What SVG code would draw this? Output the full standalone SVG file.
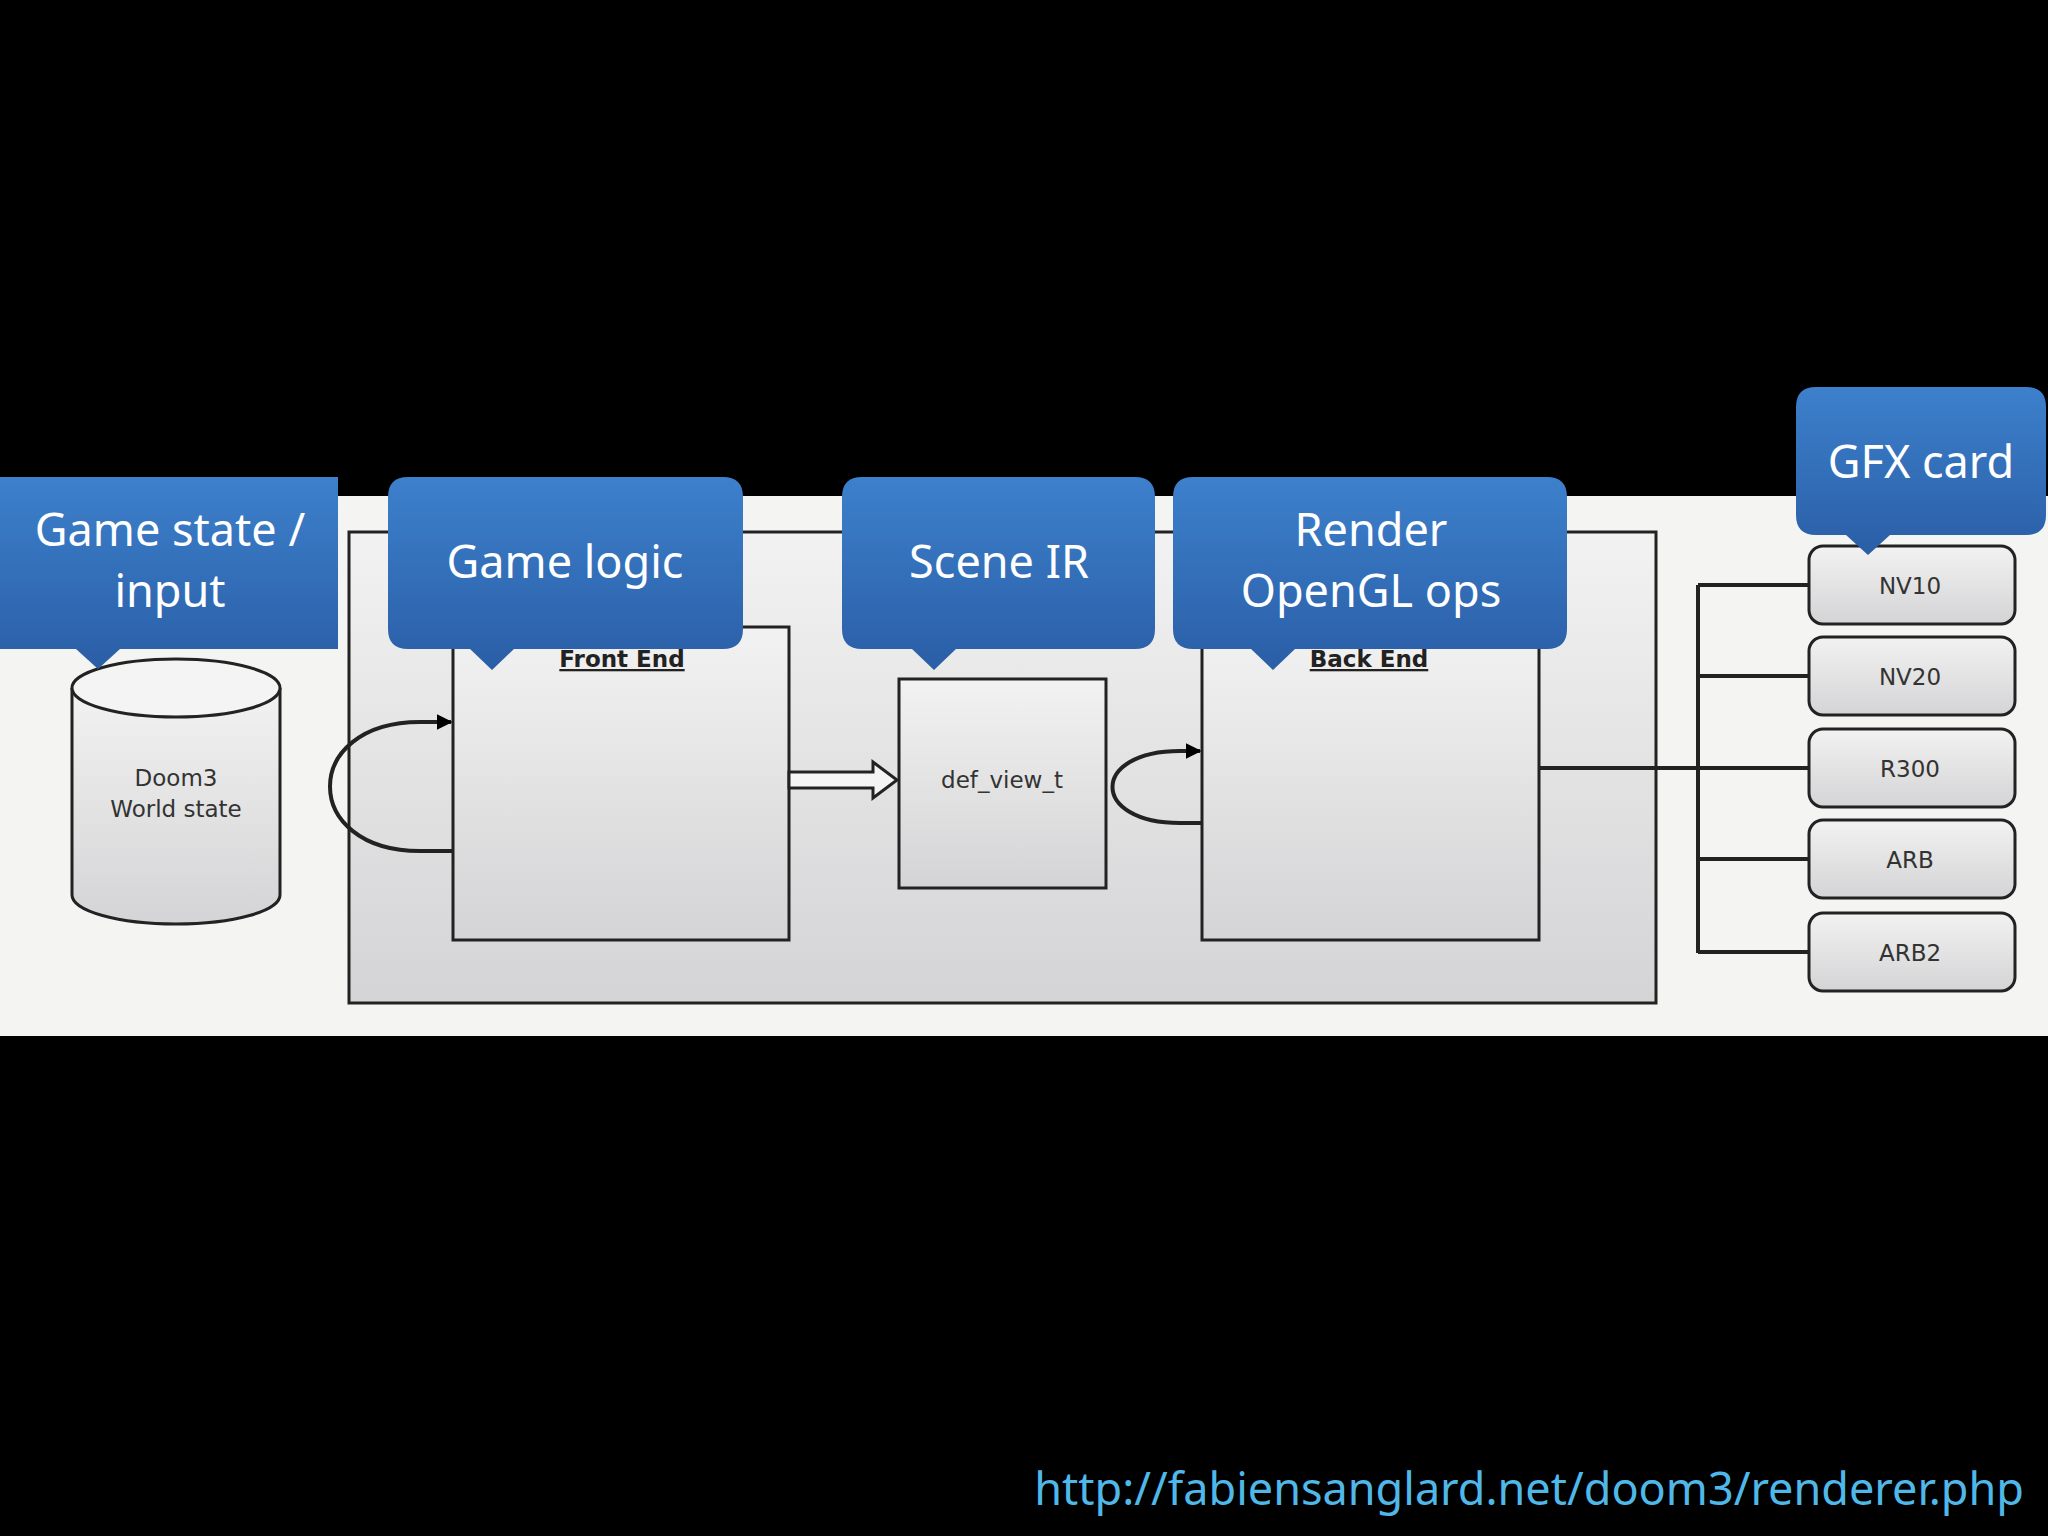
<svg xmlns="http://www.w3.org/2000/svg" width="2048" height="1536" viewBox="0 0 2048 1536">
<defs>
<linearGradient id="blue" x1="0" y1="0" x2="0" y2="1"><stop offset="0" stop-color="#3d80cc"/><stop offset="1" stop-color="#2a5ea6"/></linearGradient>
<linearGradient id="box" x1="0" y1="0" x2="0" y2="1"><stop offset="0" stop-color="#f2f2f2"/><stop offset="1" stop-color="#d4d4d6"/></linearGradient>
<marker id="ah" viewBox="0 0 10 10" refX="9" refY="5" markerWidth="4" markerHeight="4" orient="auto"><path d="M0,0 L10,5 L0,10 z" fill="#000"/></marker>
</defs>
<style>
.co{font-family:"Noto Sans","Open Sans",sans-serif;font-size:45px;fill:#fff;text-anchor:middle}
.bx{fill:url(#box);stroke:#222;stroke-width:3}
.sm{font-family:"DejaVu Sans",sans-serif;font-size:23px;fill:#333;text-anchor:middle}
.hd{font-family:"DejaVu Sans",sans-serif;font-size:23px;font-weight:bold;fill:#222;text-anchor:middle;text-decoration:underline}
.ln{fill:none;stroke:#222;stroke-width:4}
</style>
<rect width="2048" height="1536" fill="#000"/>
<rect x="0" y="496" width="2048" height="540" fill="#f4f4f2"/>
<g id="container"><rect x="349" y="532" width="1307" height="471" class="bx"/></g>
<g id="world"><path d="M72,688 V895 A104,29 0 0 0 280,895 V688" class="bx"/><ellipse cx="176" cy="688" rx="104" ry="29" fill="#f4f4f4" stroke="#222" stroke-width="3"/>
<text x="176" y="786" class="sm">Doom3</text><text x="176" y="817" class="sm">World state</text></g>
<g id="frontend"><rect x="453" y="627" width="336" height="313" class="bx"/><text x="622" y="667" class="hd">Front End</text></g>
<g id="defview"><rect x="899" y="679" width="207" height="209" class="bx"/><text x="1002" y="788" class="sm">def_view_t</text></g>
<g id="backend"><rect x="1202" y="627" width="337" height="313" class="bx"/><text x="1369" y="667" class="hd">Back End</text></g>
<g id="gfx">
<rect x="1809" y="546" width="206" height="78" rx="14" class="bx"/><text x="1910" y="594" class="sm">NV10</text>
<rect x="1809" y="637" width="206" height="78" rx="14" class="bx"/><text x="1910" y="685" class="sm">NV20</text>
<rect x="1809" y="729" width="206" height="78" rx="14" class="bx"/><text x="1910" y="777" class="sm">R300</text>
<rect x="1809" y="820" width="206" height="78" rx="14" class="bx"/><text x="1910" y="868" class="sm">ARB</text>
<rect x="1809" y="913" width="206" height="78" rx="14" class="bx"/><text x="1910" y="961" class="sm">ARB2</text>
</g>
<g id="connectors">
<path d="M453,851 H420 C300,851 300,722 420,722 H451" class="ln" marker-end="url(#ah)"/>
<path d="M1202,823 H1180 C1090,823 1090,751 1180,751 H1200" class="ln" marker-end="url(#ah)"/>
<path d="M789,772 H873 V762 L897,780 L873,798 V788 H789 Z" fill="#f4f4f4" stroke="#222" stroke-width="3"/>
<path d="M1539,768 H1809 M1698,585 V953 M1698,585 H1809 M1698,676 H1809 M1698,859 H1809 M1698,952 H1809" class="ln"/>
</g>
<g id="callouts">
<path d="M0,477 H338 V649 H120 L98,669 L76,649 H0 Z" fill="url(#blue)"/>
<text x="170" y="546" class="co">Game state /</text><text x="170" y="607" class="co">input</text>
<path d="M408,477 H723 Q743,477 743,497 V629 Q743,649 723,649 H514 L492,670 L470,649 H408 Q388,649 388,629 V497 Q388,477 408,477 Z" fill="url(#blue)"/>
<text x="565" y="578" class="co">Game logic</text>
<path d="M862,477 H1135 Q1155,477 1155,497 V629 Q1155,649 1135,649 H956 L934,670 L912,649 H862 Q842,649 842,629 V497 Q842,477 862,477 Z" fill="url(#blue)"/>
<text x="999" y="578" class="co">Scene IR</text>
<path d="M1193,477 H1547 Q1567,477 1567,497 V629 Q1567,649 1547,649 H1295 L1273,670 L1251,649 H1193 Q1173,649 1173,629 V497 Q1173,477 1193,477 Z" fill="url(#blue)"/>
<text x="1371" y="546" class="co">Render</text><text x="1371" y="607" class="co">OpenGL ops</text>
<path d="M1816,387 H2026 Q2046,387 2046,407 V515 Q2046,535 2026,535 H1890 L1868,555 L1846,535 H1816 Q1796,535 1796,515 V407 Q1796,387 1816,387 Z" fill="url(#blue)"/>
<text x="1921" y="478" class="co">GFX card</text>
</g>
<text x="2024" y="1505" font-family="Noto Sans,Open Sans,sans-serif" font-size="45" fill="#4fb8e8" text-anchor="end">http://fabiensanglard.net/doom3/renderer.php</text>
</svg>
